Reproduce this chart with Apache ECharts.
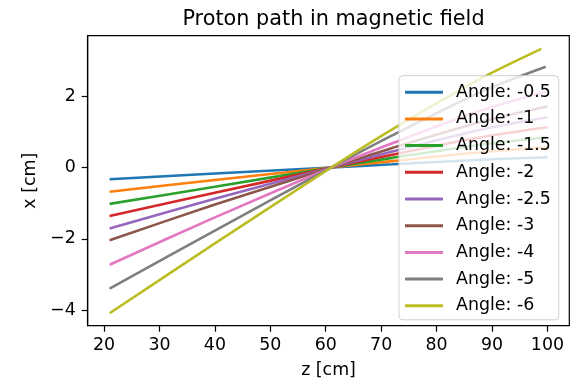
<!DOCTYPE html>
<html>
<head>
<meta charset="utf-8">
<script src="https://cdn.jsdelivr.net/npm/echarts@6/dist/echarts.min.js"></script>
<style>
html,body{margin:0;padding:0;background:#fff;}
#chart{width:577px;height:380px;}
</style>
</head>
<body>
<div id="chart"></div>
<script>
// Legend labels (angle in degrees)
const angles = ['-0.5', '-1', '-1.5', '-2', '-2.5', '-3', '-4', '-5', '-6'];
const colors = ['#1f77b4', '#ff7f0e', '#2ca02c', '#d62728', '#9467bd', '#8c564b', '#e377c2', '#7f7f7f', '#bcbd22'];

// z positions [cm] of read-off points (last point per series in zEnd)
const zPts = [21, 40, 61, 72, 88];
const zEnd = [100, 100, 100, 100, 100, 100, 99.8, 99.7, 98.9];

// x [cm] values read at zPts + zEnd for each angle
const xA05 = [-0.33, -0.17, 0, 0.09, 0.22, 0.29];
const xA10 = [-0.68, -0.35, 0, 0.18, 0.43, 0.57];
const xA15 = [-1.02, -0.54, 0, 0.27, 0.64, 0.85];
const xA20 = [-1.36, -0.71, 0, 0.36, 0.85, 1.13];
const xA25 = [-1.71, -0.88, 0, 0.45, 1.06, 1.41];
const xA30 = [-2.04, -1.04, 0, 0.55, 1.28, 1.71];
const xA40 = [-2.73, -1.40, 0, 0.68, 1.60, 2.13];
const xA50 = [-3.40, -1.77, 0, 0.90, 2.12, 2.83];
const xA60 = [-4.09, -2.13, 0, 1.07, 2.50, 3.33];
const xSeries = [xA05, xA10, xA15, xA20, xA25, xA30, xA40, xA50, xA60];

const xTicks = [20, 30, 40, 50, 60, 70, 80, 90, 100];
const yTicks = [-4, -2, 0, 2];

const FONT = 'DejaVu Sans';
const fmtMinus = v => String(v).replace('-', '\u2212');

const series = angles.map((a, i) => {
  const zs = zPts.concat([zEnd[i]]);
  return {
    name: 'Angle: ' + a,
    type: 'line',
    showSymbol: false,
    symbol: 'none',
    smooth: 0.3,
    lineStyle: { width: 2.6, color: colors[i] },
    itemStyle: { color: colors[i] },
    data: zs.map((z, k) => [z, xSeries[i][k]]),
    z: 2
  };
});

const chart = echarts.init(document.getElementById('chart'), null, { renderer: 'canvas' });
chart.setOption({
  animation: false,
  backgroundColor: '#fff',
  title: {
    text: 'Proton path in magnetic field',
    left: 328.5,
    textAlign: 'center',
    top: 4,
    textStyle: { fontFamily: FONT, fontSize: 20.8, fontWeight: 'normal', color: '#000' }
  },
  grid: {
    left: 87.7, right: 7.7, top: 35.7, bottom: 54.3,
    containLabel: false,
    outerBoundsMode: 'none',
    show: true, borderColor: '#000', borderWidth: 1.2, backgroundColor: 'transparent'
  },
  xAxis: {
    type: 'value',
    min: 17.05, max: 103.95,
    name: 'z [cm]',
    nameLocation: 'middle',
    nameGap: 36,
    nameTextStyle: { fontFamily: FONT, fontSize: 17.4, color: '#000' },
    splitLine: { show: false },
    axisLine: { show: true, onZero: false, lineStyle: { color: '#000', width: 1.2 } },
    axisTick: { show: true, length: 6, lineStyle: { color: '#000', width: 1.2 }, customValues: xTicks },
    axisLabel: { fontFamily: FONT, fontSize: 17.4, color: '#000', margin: 11, customValues: xTicks, formatter: v => fmtMinus(v) }
  },
  yAxis: {
    type: 'value',
    min: -4.44, max: 3.70,
    name: 'x [cm]',
    nameLocation: 'middle',
    nameGap: 48,
    nameRotate: 90,
    nameTextStyle: { fontFamily: FONT, fontSize: 17.4, color: '#000' },
    splitLine: { show: false },
    axisLine: { show: true, onZero: false, lineStyle: { color: '#000', width: 1.2 } },
    axisTick: { show: true, length: 6, lineStyle: { color: '#000', width: 1.2 }, customValues: yTicks },
    axisLabel: { fontFamily: FONT, fontSize: 17.4, color: '#000', margin: 12, customValues: yTicks, formatter: v => fmtMinus(v) }
  },
  legend: {
    orient: 'vertical',
    left: 399, top: 75.7,
    width: 150,
    padding: [6.5, 8, 4, 6],
    itemGap: 6.7,
    itemWidth: 38,
    itemHeight: 3,
    icon: 'rect',
    backgroundColor: 'rgba(255,255,255,0.8)',
    borderColor: '#d0d0d0',
    borderWidth: 1,
    borderRadius: 4,
    textStyle: { fontFamily: FONT, fontSize: 17.4, color: '#000', lineHeight: 20, padding: [0, 0, 0, 8] },
    data: angles.map((a, i) => ({ name: 'Angle: ' + a, itemStyle: { color: colors[i] } }))
  },
  series: series
});
</script>
</body>
</html>
